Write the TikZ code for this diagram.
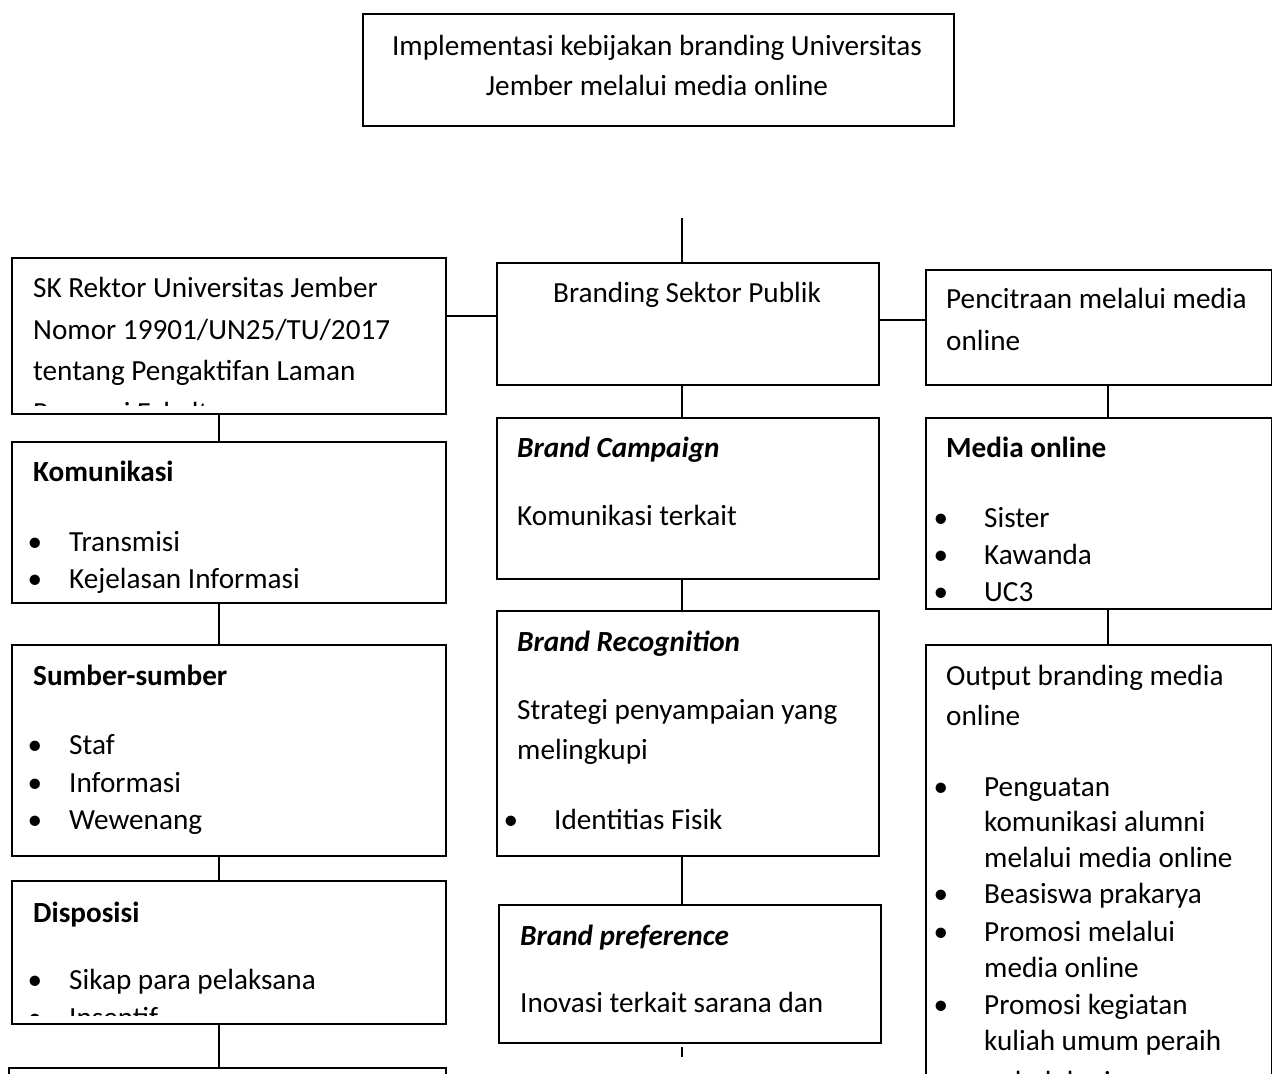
\documentclass[tikz,border=0pt]{standalone}
\usepackage{fontspec}
\setmainfont{Carlito}
\newcommand\fsz{\fontsize{29.2bp}{35bp}\selectfont}
\tikzset{
  box/.style={draw=black, line width=1.6bp, anchor=north west, inner sep=0pt, fill=none},
  conn/.style={draw=black, line width=1.6bp},
  txt/.style={anchor=base west, inner sep=0pt, font=\fsz},
  ctxt/.style={anchor=base, inner sep=0pt, font=\fsz},
  ttl/.style={anchor=base west, inner sep=0pt, font=\fsz\bfseries},
  ittl/.style={anchor=base west, inner sep=0pt, font=\fsz\bfseries\itshape},
  bul/.style={anchor=base, inner sep=0pt, font=\fsz}
}
\begin{document}
\begin{tikzpicture}[x=1bp,y=-1bp]
\clip (0,0) rectangle (1272,1074);
\fill[white] (0,0) rectangle (1272,1074);
% ---------- boxes ----------
\node[box, minimum width=591bp, minimum height=112bp] (top) at (362,13) {};
\node[box, minimum width=434bp, minimum height=156bp] (sk) at (11,257) {};
\node[box, minimum width=382bp, minimum height=122bp] (brd) at (496,262) {};
\node[box, minimum width=346bp, minimum height=115bp] (pen) at (925,269) {};
\node[box, minimum width=434bp, minimum height=161bp] (kom) at (11,441) {};
\node[box, minimum width=434bp, minimum height=211bp] (sum) at (11,644) {};
\node[box, minimum width=434bp, minimum height=143bp] (dis) at (11,880) {};
\node[box, minimum width=437bp, minimum height=60bp] (bot) at (8,1067) {};
\node[box, minimum width=382bp, minimum height=161bp] (camp) at (496,417) {};
\node[box, minimum width=382bp, minimum height=245bp] (rec) at (496,610) {};
\node[box, minimum width=382bp, minimum height=138bp] (pref) at (498,904) {};
\node[box, minimum width=346bp, minimum height=191bp] (med) at (925,417) {};
\node[box, minimum width=346bp, minimum height=480bp] (out) at (925,644) {};
% ---------- connectors ----------
\coordinate (stubtop) at (682,218);
\coordinate (stubbot) at (682,1057);
\coordinate (prefgap) at (682,1047);
\draw[conn] (stubtop) -- (stubtop |- brd.north);
\draw[conn] (sk.east |- 0,316) -- (brd.west |- 0,316);
\draw[conn] (brd.east |- 0,320) -- (pen.west |- 0,320);
\draw[conn] (sk.south -| 219,0) -- (kom.north -| 219,0);
\draw[conn] (kom.south -| 219,0) -- (sum.north -| 219,0);
\draw[conn] (sum.south -| 219,0) -- (dis.north -| 219,0);
\draw[conn] (dis.south -| 219,0) -- (bot.north -| 219,0);
\draw[conn] (brd.south -| 682,0) -- (camp.north -| 682,0);
\draw[conn] (camp.south -| 682,0) -- (rec.north -| 682,0);
\draw[conn] (rec.south -| 682,0) -- (pref.north -| 682,0);
\draw[conn] (prefgap) -- (stubbot);
\draw[conn] (pen.south -| 1108,0) -- (med.north -| 1108,0);
\draw[conn] (med.south -| 1108,0) -- (out.north -| 1108,0);
% ---------- texts ----------
\node[ctxt] (t-top1) at (657,55) {Implementasi kebijakan branding Universitas};
\node[ctxt] (t-top2) at (657,95) {Jember melalui media online};
\begin{scope}
\clip (11,257) rectangle (445,405);
\node[txt] (t-sk1) at (33,297) {SK Rektor Universitas Jember};
\node[txt] (t-sk2) at (33,339) {Nomor 19901/UN25/TU/2017};
\node[txt] (t-sk3) at (33,380) {tentang Pengaktifan Laman};
\node[txt] (t-sk4) at (33,422) {Pegawai Fakultas};
\end{scope}
\node[ctxt] (t-brd) at (687,302) {Branding Sektor Publik};
\node[txt] (t-pen1) at (946,308) {Pencitraan melalui media};
\node[txt] (t-pen2) at (946,350) {online};
% Komunikasi
\node[ttl] (t-kom) at (33,481) {Komunikasi};
\node[bul] (b-kom1) at (35,551) {•};
\node[txt] (t-kom1) at (69,551) {Transmisi};
\node[bul] (b-kom2) at (35,588) {•};
\node[txt] (t-kom2) at (69,588) {Kejelasan Informasi};
% Sumber
\node[ttl] (t-sum) at (33,685) {Sumber-sumber};
\node[bul] (b-sum1) at (35,754) {•};
\node[txt] (t-sum1) at (69,754) {Staf};
\node[bul] (b-sum2) at (35,792) {•};
\node[txt] (t-sum2) at (69,792) {Informasi};
\node[bul] (b-sum3) at (35,829) {•};
\node[txt] (t-sum3) at (69,829) {Wewenang};
% Disposisi
\begin{scope}
\clip (11,880) rectangle (445,1015);
\node[ttl] (t-dis) at (33,922) {Disposisi};
\node[bul] (b-dis1) at (35,989) {•};
\node[txt] (t-dis1) at (69,989) {Sikap para pelaksana};
\node[bul] (b-dis2) at (35,1027) {•};
\node[txt] (t-dis2) at (69,1027) {Insentif};
\end{scope}
% Middle column
\node[ittl] (t-camp) at (517,457) {Brand Campaign};
\node[txt] (t-camp1) at (517,525) {Komunikasi terkait};
\node[ittl] (t-rec) at (517,651) {Brand Recognition};
\node[txt] (t-rec1) at (517,719) {Strategi penyampaian yang};
\node[txt] (t-rec2) at (517,759) {melingkupi};
\node[bul] (b-rec) at (511,829) {•};
\node[txt] (t-rec3) at (554,829) {Identitias Fisik};
\node[ittl] (t-pref) at (520,945) {Brand preference};
\node[txt] (t-pref1) at (520,1012) {Inovasi terkait sarana dan};
% Right column
\node[ttl] (t-med) at (946,457) {Media online};
\node[bul] (b-med1) at (941,527) {•};
\node[txt] (t-med1) at (984,527) {Sister};
\node[bul] (b-med2) at (941,564) {•};
\node[txt] (t-med2) at (984,564) {Kawanda};
\node[bul] (b-med3) at (941,601) {•};
\node[txt] (t-med3) at (984,601) {UC3};
\node[txt] (t-out1) at (946,685) {Output branding media};
\node[txt] (t-out2) at (946,725) {online};
\node[bul] (b-out1) at (941,796) {•};
\node[txt] (t-out3) at (984,796) {Penguatan};
\node[txt] (t-out4) at (984,831) {komunikasi alumni};
\node[txt] (t-out5) at (984,867) {melalui media online};
\node[bul] (b-out2) at (941,903) {•};
\node[txt] (t-out6) at (984,903) {Beasiswa prakarya};
\node[bul] (b-out3) at (941,941) {•};
\node[txt] (t-out7) at (984,941) {Promosi melalui};
\node[txt] (t-out8) at (984,977) {media online};
\node[bul] (b-out4) at (941,1014) {•};
\node[txt] (t-out9) at (984,1014) {Promosi kegiatan};
\node[txt] (t-out10) at (984,1050) {kuliah umum peraih};
\node[txt] (t-out11) at (984,1091) {nobel dunia};
\end{tikzpicture}
\end{document}
